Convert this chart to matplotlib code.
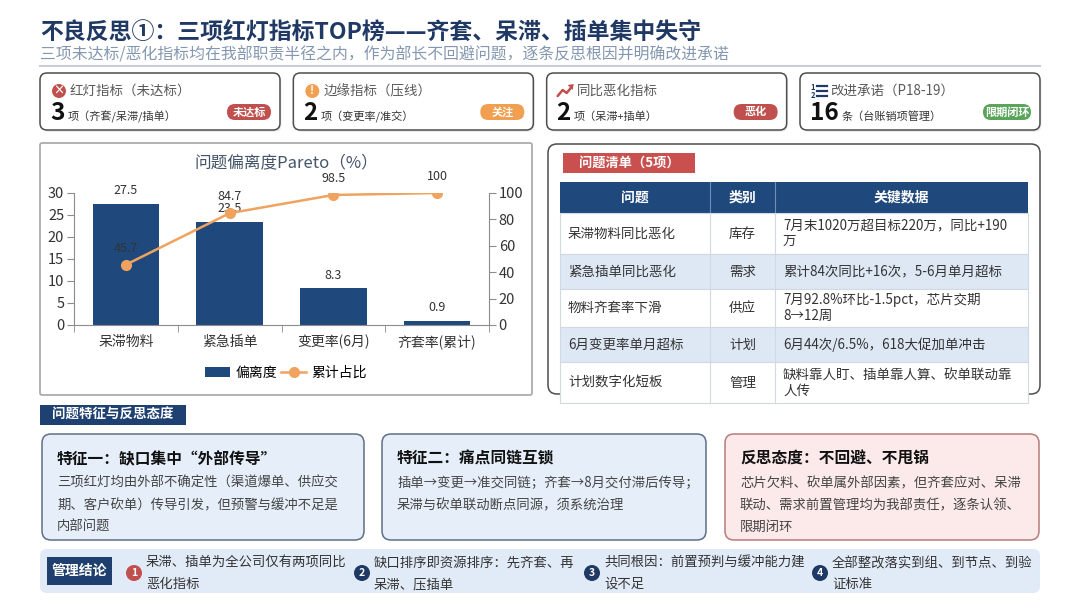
import numpy as np
import matplotlib
matplotlib.use("Agg")
import matplotlib.pyplot as plt
from matplotlib.patches import FancyBboxPatch, Rectangle, Circle

plt.rcParams["font.family"] = ["Noto Sans CJK SC", "DejaVu Sans"]

# ---- data ----
title = "不良反思①：三项红灯指标TOP榜——齐套、呆滞、插单集中失守"
subtitle = "三项未达标/恶化指标均在我部职责半径之内，作为部长不回避问题，逐条反思根因并明确改进承诺"

kpi_titles = ["红灯指标（未达标）", "边缘指标（压线）", "同比恶化指标", "改进承诺（P18-19）"]
kpi_values = ["3", "2", "2", "16"]
kpi_units = ["项（齐套/呆滞/插单）", "项（变更率/准交）", "项（呆滞+插单）", "条（台账销项管理）"]
kpi_badges = ["未达标", "关注", "恶化", "限期闭环"]

chart_title = "问题偏离度Pareto（%）"
categories = ["呆滞物料", "紧急插单", "变更率(6月)", "齐套率(累计)"]
deviation = [27.5, 23.5, 8.3, 0.9]
cum_share = [45.7, 84.7, 98.5, 100]

table_label = "问题清单（5项）"
table_cols = ["问题", "类别", "关键数据"]
table_issue = ["呆滞物料同比恶化", "紧急插单同比恶化", "物料齐套率下滑", "6月变更率单月超标", "计划数字化短板"]
table_type = ["库存", "需求", "供应", "计划", "管理"]
table_data = [
    "7月末1020万超目标220万，同比+190\n万",
    "累计84次同比+16次，5-6月单月超标",
    "7月92.8%环比-1.5pct，芯片交期\n8→12周",
    "6月44次/6.5%，618大促加单冲击",
    "缺料靠人盯、插单靠人算、砍单联动靠\n人传",
]

section_label = "问题特征与反思态度"
feature_titles = ["特征一：缺口集中“外部传导”", "特征二：痛点同链互锁", "反思态度：不回避、不甩锅"]
feature_lines = [
    ["三项红灯均由外部不确定性（渠道爆单、供应交", "期、客户砍单）传导引发，但预警与缓冲不足是", "内部问题"],
    ["插单→变更→准交同链；齐套→8月交付滞后传导；", "呆滞与砍单联动断点同源，须系统治理"],
    ["芯片欠料、砍单属外部因素，但齐套应对、呆滞", "联动、需求前置管理均为我部责任，逐条认领、", "限期闭环"],
]

conclusion_label = "管理结论"
conclusions = [
    ["呆滞、插单为全公司仅有两项同比", "恶化指标"],
    ["缺口排序即资源排序：先齐套、再", "呆滞、压插单"],
    ["共同根因：前置预判与缓冲能力建", "设不足"],
    ["全部整改落实到组、到节点、到验", "证标准"],
]

NAVY = "#1F497D"
RED = "#C0504D"

W, H = 1080, 608
fig = plt.figure(figsize=(10.8, 6.08), dpi=100)
bg = fig.add_axes([0, 0, 1, 1])
bg.set_xlim(0, W)
bg.set_ylim(H, 0)
bg.axis("off")


def rbox(x, y, w, h, fc, ec="none", r=6, lw=1.0, z=1, alpha=1.0):
    p = FancyBboxPatch((x + r, y + r), w - 2 * r, h - 2 * r,
                       boxstyle=f"round,pad={r}", fc=fc, ec=ec, lw=lw,
                       zorder=z, alpha=alpha)
    bg.add_patch(p)
    return p


def rect(x, y, w, h, fc, ec="none", lw=1.0, z=1):
    bg.add_patch(Rectangle((x, y), w, h, fc=fc, ec=ec, lw=lw, zorder=z))


# ---- header ----
bg.text(40, 33, title, fontsize=16.5, fontweight="bold", color="#1F3864", va="center")
bg.text(40, 55, subtitle, fontsize=11.4, color="#8497B0", va="center")
bg.plot([40, 1040], [66, 66], color="#C9CED6", lw=1.5)

# ---- KPI cards ----
badge_colors = [RED, "#F0A050", RED, "#5AA55A"]
for i in range(4):
    x = 40 + i * 253.33
    w = 240
    rbox(x + 1.5, 75, w, 57, fc="#000000", r=7, alpha=0.07, z=1)
    rbox(x, 73, w, 57, fc="white", ec="#4D4D4D", r=7, lw=1.1, z=2)
    ix, iy = x + 19, 91
    if i == 0:
        bg.add_patch(Circle((ix, iy), 7, fc=RED, zorder=3))
        bg.text(ix, iy, "×", color="white", fontsize=8, fontweight="bold",
                ha="center", va="center", zorder=4)
    elif i == 1:
        bg.add_patch(Circle((ix, iy), 7, fc="#F0A050", zorder=3))
        bg.text(ix, iy, "!", color="white", fontsize=8, fontweight="bold",
                ha="center", va="center", zorder=4)
    elif i == 2:
        bg.plot([ix - 8, ix - 3, ix + 1, ix + 6], [iy + 5, iy - 1, iy + 2, iy - 4],
                color=RED, lw=1.8, zorder=3, solid_capstyle="round")
        bg.add_patch(plt.Polygon([[ix + 8, iy - 7], [ix + 2, iy - 6], [ix + 7, iy - 1]],
                                 fc=RED, zorder=3))
    else:
        bg.text(ix - 6, iy - 4, "1", fontsize=5.5, color="#1F3864", fontweight="bold",
                ha="center", va="center")
        bg.text(ix - 6, iy + 4, "2", fontsize=5.5, color="#1F3864", fontweight="bold",
                ha="center", va="center")
        for dy in (-5, 0, 5):
            bg.plot([ix - 2, ix + 8], [iy + dy, iy + dy], color="#1F3864", lw=1.6)
    bg.text(x + 30, 91, kpi_titles[i], fontsize=9.7, color="#595959", va="center", zorder=4)
    num = bg.text(x + 10, 113, kpi_values[i], fontsize=17.5, fontweight="bold",
                  color="#111111", va="center", zorder=4)
    bg.annotate(kpi_units[i], xy=(1, 0.4), xycoords=num, xytext=(2, -1),
                textcoords="offset points", fontsize=8, color="#333333",
                va="center", ha="left", zorder=4)
    bw = 48 if len(kpi_badges[i]) > 3 else 44
    bx = x + w - 9 - bw
    rbox(bx, 104, bw, 16, fc=badge_colors[i], r=8, z=3)
    bg.text(bx + bw / 2, 112, kpi_badges[i], fontsize=8, fontweight="bold",
            color="white", ha="center", va="center", zorder=4)

# ---- chart panel ----
rbox(40, 143, 492, 252, fc="white", ec="#A6A6A6", r=2, lw=1.2, z=1)
bg.text(286, 163, chart_title, fontsize=12, color="#44546A", ha="center", va="center")

ax = fig.add_axes([74 / W, 1 - 325 / H, 415 / W, 132 / H])
ax.set_facecolor("none")
xs = np.arange(len(categories))
bars = ax.bar(xs, deviation, width=0.64, color=NAVY, zorder=2)
ax.set_xlim(-0.5, len(categories) - 0.5)
ax.set_ylim(0, 30)
ax.set_yticks(range(0, 31, 5))
ax.set_xticks(xs)
ax.set_xticklabels(categories, fontsize=10, color="#333333")
ax.set_xticks(np.arange(-0.5, len(categories), 1), minor=True)
ax.tick_params(axis="x", which="major", length=0, pad=7)
ax.tick_params(axis="x", which="minor", length=5, color="#8C8C8C")
ax.tick_params(axis="y", length=5, color="#8C8C8C", labelsize=10.5, labelcolor="#333333", pad=2)
for v, xv in zip(deviation, xs):
    ax.annotate(f"{v:g}", (xv, v), xytext=(0, 5), textcoords="offset points",
                ha="center", va="bottom", fontsize=9, color="#333333")

ax2 = ax.twinx()
line, = ax2.plot(xs, cum_share, color="#F0A35E", lw=1.8, marker="o", ms=7, zorder=3)
ax2.set_ylim(0, 100)
ax2.set_yticks(range(0, 101, 20))
ax2.tick_params(axis="y", length=5, color="#8C8C8C", labelsize=10.5, labelcolor="#333333", pad=2)
for v, xv in zip(cum_share, xs):
    ax2.annotate(f"{v:g}", (xv, v), xytext=(0, 7), textcoords="offset points",
                 ha="center", va="bottom", fontsize=9, color="#333333")

for a in (ax, ax2):
    a.spines["top"].set_visible(False)
    for s in ("left", "right", "bottom"):
        a.spines[s].set_color("#8C8C8C")
ax.spines["right"].set_visible(False)
ax2.spines["left"].set_visible(False)
ax2.spines["bottom"].set_visible(False)

ax.legend([bars, line], ["偏离度", "累计占比"], loc="center",
          bbox_to_anchor=(286 / W, 1 - 373 / H), bbox_transform=fig.transFigure,
          ncol=2, frameon=False, fontsize=10, handlelength=1.8,
          columnspacing=0.3, handletextpad=0.4)

# ---- table panel ----
rbox(548, 144, 492, 250, fc="white", ec="#4D4D4D", r=9, lw=1.1, z=1)
rect(563, 153, 132, 20, fc="#C9504E", z=2)
bg.text(629, 163, table_label, fontsize=9.5, fontweight="bold", color="white",
        ha="center", va="center", zorder=3)

col_x = [560, 710, 775, 1028]
row_h = [41, 35, 38, 35, 41]
ty = 182
rect(560, ty, 468, 31, fc=NAVY, z=2)
for j, c in enumerate(table_cols):
    bg.text((col_x[j] + col_x[j + 1]) / 2, ty + 15.5, c, fontsize=10, fontweight="bold",
            color="white", ha="center", va="center", zorder=3)
for xv in col_x[1:-1]:
    bg.plot([xv, xv], [ty, ty + 31], color="#6F8DB5", lw=0.8, zorder=3)
ty += 31
for k in range(len(table_issue)):
    h = row_h[k]
    rect(560, ty, 468, h, fc="white" if k % 2 == 0 else "#DEE8F5", ec="#D3D9E2", lw=0.8, z=2)
    cy = ty + h / 2
    bg.text(568, cy, table_issue[k], fontsize=9.7, color="#333333", va="center", zorder=3)
    bg.text((col_x[1] + col_x[2]) / 2, cy, table_type[k], fontsize=9.7, color="#333333",
            ha="center", va="center", zorder=3)
    bg.text(783, cy, table_data[k], fontsize=9.7, color="#333333", va="center",
            linespacing=1.15, zorder=3)
    for xv in col_x[1:-1]:
        bg.plot([xv, xv], [ty, ty + h], color="#D3D9E2", lw=0.8, zorder=3)
    ty += h

# ---- features ----
rect(40, 405, 146, 20, fc="#1F4172", z=2)
bg.text(113, 415, section_label, fontsize=9.7, fontweight="bold", color="white",
        ha="center", va="center", zorder=3)

feat_x = [(42, 364), (382, 706), (725, 1039)]
feat_fc = ["#E5EEF9", "#E5EEF9", "#FCE9E9"]
feat_ec = ["#5F6F85", "#5F6F85", "#B77B7B"]
for k, (x0, x1) in enumerate(feat_x):
    rbox(x0, 434, x1 - x0, 106, fc=feat_fc[k], ec=feat_ec[k], r=9, lw=1.1, z=1)
    bg.text(x0 + 15, 459, feature_titles[k], fontsize=11.3, fontweight="bold",
            color="#111111", va="center", zorder=3)
    for n, ln in enumerate(feature_lines[k]):
        bg.text(x0 + 15, 483 + n * 22, ln, fontsize=9.6, color="#444444",
                va="center", zorder=3)

# ---- conclusion strip ----
rbox(40, 549, 1000, 44, fc="#E1EBF7", r=7, z=1)
rect(47, 557, 65, 28, fc="#1F3F6E", z=2)
bg.text(79.5, 571, conclusion_label, fontsize=10, fontweight="bold", color="white",
        ha="center", va="center", zorder=3)
circ_x = [134, 362, 592, 820]
circ_c = [RED, "#1F3864", "#1F3864", "#1F3864"]
for k, cx in enumerate(circ_x):
    bg.add_patch(Circle((cx, 573), 8, fc=circ_c[k], zorder=3))
    bg.text(cx, 573, str(k + 1), fontsize=7.5, fontweight="bold", color="white",
            ha="center", va="center", zorder=4)
    for n, ln in enumerate(conclusions[k]):
        bg.text(cx + 12, 563 + n * 21, ln, fontsize=9.6, color="#333333",
                va="center", zorder=3)

fig.savefig("out.png", dpi=100)
